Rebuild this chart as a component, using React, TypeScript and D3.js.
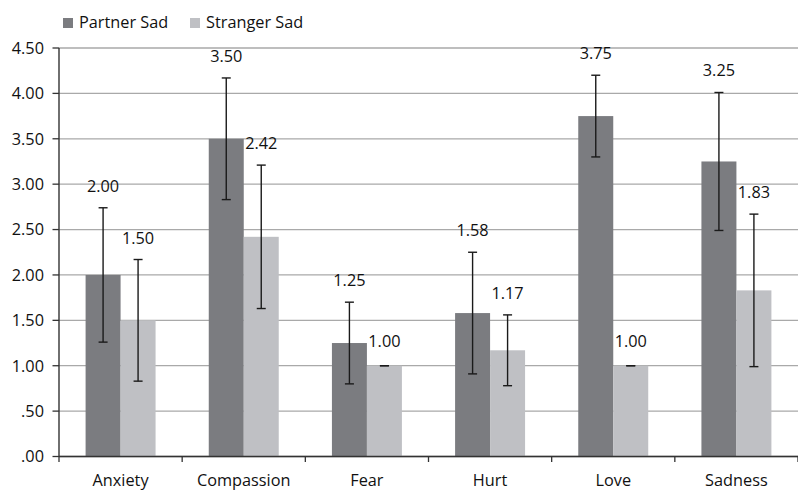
import React from "react";
import * as d3 from "d3";

const categories = ["Anxiety", "Compassion", "Fear", "Hurt", "Love", "Sadness"];
const seriesNames = ["Partner Sad", "Stranger Sad"];
const partnerValues = [2.0, 3.5, 1.25, 1.58, 3.75, 3.25];
const strangerValues = [1.5, 2.42, 1.0, 1.17, 1.0, 1.83];
const partnerErrors = [0.74, 0.67, 0.45, 0.67, 0.45, 0.76];
const strangerErrors = [0.67, 0.79, 0.0, 0.39, 0.0, 0.84];
const yTicks = [0, 0.5, 1, 1.5, 2, 2.5, 3, 3.5, 4, 4.5];
const seriesColors = ["#7b7c80", "#bfc0c4"];

const W = 798;
const H = 490;
const left = 59;
const right = 798;
const top = 48;
const bottom = 456.5;

const fmt = (v: number) => {
  const s = v.toFixed(2);
  return s.startsWith("0") ? s.slice(1) : s;
};

export default function App() {
  const x0 = d3.scaleBand<string>().domain(categories).range([left, right]).paddingInner(0).paddingOuter(0);
  const x1 = d3
    .scaleBand<string>()
    .domain(seriesNames)
    .range([0, x0.bandwidth()])
    .paddingInner(0)
    .paddingOuter(0.76);
  const y = d3.scaleLinear().domain([0, 4.5]).range([bottom, top]);
  const values = [partnerValues, strangerValues];
  const errors = [partnerErrors, strangerErrors];
  const font = "'Open Sans', sans-serif";
  const fs = 16.3;
  const bw = x1.bandwidth();
  const boundaries = d3.range(categories.length + 1).map((i) => left + i * x0.step());

  return (
    <svg
      width={W}
      height={H}
      style={{ position: "absolute", left: 0, top: 0, background: "#fff" }}
      fontFamily={font}
    >
      {yTicks.map((t) => (
        <line key={"g" + t} x1={left} x2={right} y1={y(t)} y2={y(t)} stroke="#a9a9a9" strokeWidth={1.3} />
      ))}
      {yTicks.map((t) => (
        <g key={"yl" + t}>
          <line x1={left - 6.5} x2={left} y1={y(t)} y2={y(t)} stroke="#333" strokeWidth={1.3} />
          <text x={44} y={y(t)} dy="0.36em" textAnchor="end" fontSize={fs} fill="#111">
            {fmt(t)}
          </text>
        </g>
      ))}
      {categories.map((c, i) =>
        seriesNames.map((s, j) => (
          <rect
            key={c + s}
            x={(x0(c) as number) + (x1(s) as number)}
            y={y(values[j][i])}
            width={bw}
            height={bottom - y(values[j][i])}
            fill={seriesColors[j]}
          />
        ))
      )}
      {categories.map((c, i) =>
        seriesNames.map((s, j) => {
          const cx = (x0(c) as number) + (x1(s) as number) + bw / 2;
          const v = values[j][i];
          const e = errors[j][i];
          const yt = y(v + e);
          const yb = y(v - e);
          return (
            <g key={"e" + c + s} stroke="#1a1a1a" strokeWidth={1.4}>
              <line x1={cx} x2={cx} y1={yt} y2={yb} />
              <line x1={cx - 4.5} x2={cx + 4.5} y1={yt} y2={yt} />
              <line x1={cx - 4.5} x2={cx + 4.5} y1={yb} y2={yb} />
            </g>
          );
        })
      )}
      {categories.map((c, i) =>
        seriesNames.map((s, j) => {
          const cx = (x0(c) as number) + (x1(s) as number) + bw / 2;
          const v = values[j][i];
          const e = errors[j][i];
          return (
            <text
              key={"v" + c + s}
              x={cx}
              y={y(v + e) - (e === 0 ? 19 : 16)}
              textAnchor="middle"
              fontSize={fs}
              fill="#111"
            >
              {v.toFixed(2)}
            </text>
          );
        })
      )}
      <line x1={left} x2={left} y1={top} y2={bottom} stroke="#333" strokeWidth={1.4} />
      <line x1={left} x2={right} y1={bottom} y2={bottom} stroke="#333" strokeWidth={1.4} />
      {boundaries.map((bx, i) => (
        <line key={"t" + i} x1={bx} x2={bx} y1={bottom} y2={bottom + 5.5} stroke="#333" strokeWidth={1.3} />
      ))}
      {categories.map((c) => (
        <text
          key={"xl" + c}
          x={(x0(c) as number) + x0.bandwidth() / 2}
          y={486}
          textAnchor="middle"
          fontSize={fs}
          fill="#111"
        >
          {c}
        </text>
      ))}
      {seriesNames.map((s, j) => {
        const lx = j === 0 ? 63 : 190;
        return (
          <g key={"lg" + s}>
            <rect x={lx} y={18} width={10} height={10} fill={seriesColors[j]} />
            <text x={lx + 16} y={28} fontSize={fs} fill="#111">
              {s}
            </text>
          </g>
        );
      })}
    </svg>
  );
}
